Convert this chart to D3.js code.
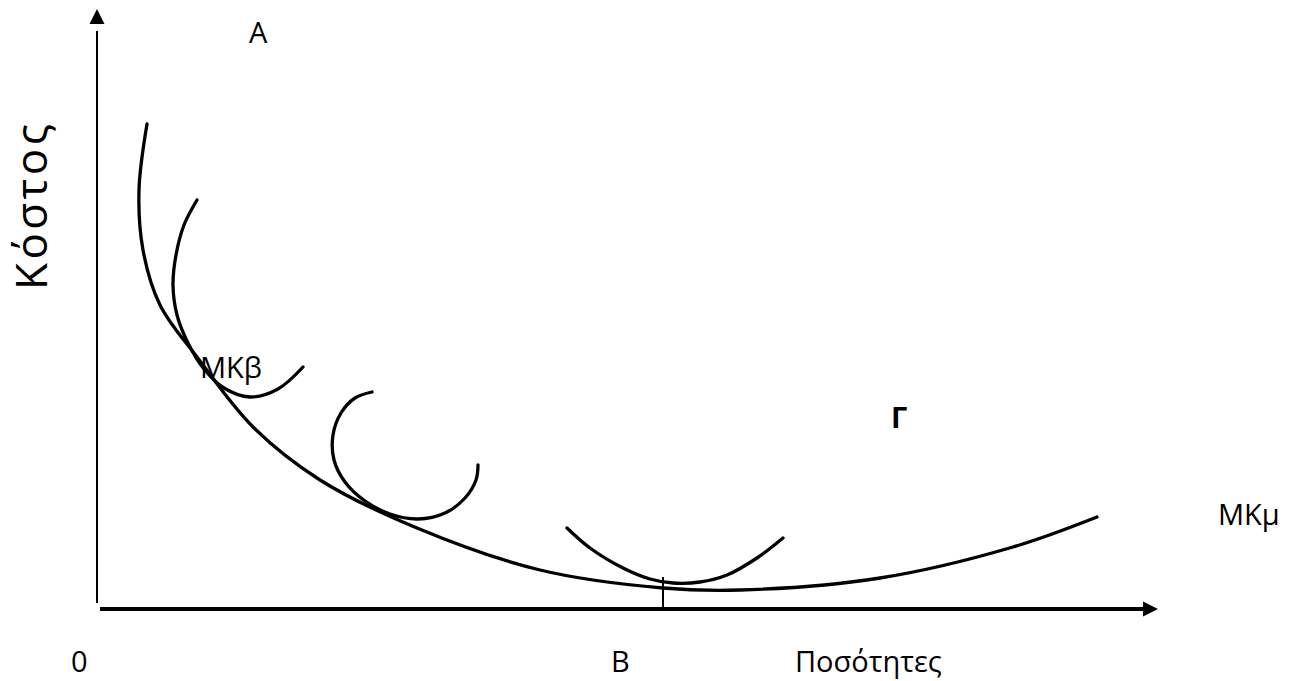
<!DOCTYPE html>
<html>
<head>
<meta charset="utf-8">
<script src="https://cdn.jsdelivr.net/npm/d3@7"></script>
<style>
    body { margin: 0; background: #fff; }
    text { font-family: 'Open Sans', 'Noto Sans', sans-serif; fill: #000; }
</style>
</head>
<body>
<svg></svg>
<script>
// long-run average cost curve (MKμ), in chart units
let lracX = [5.0, 4.2, 4.6, 6.3, 10.0, 15.6, 22.3, 32.0, 44.3, 56.6, 64.3, 78.3, 91.6, 100.0]
let lracY = [48.5, 41.9, 35.9, 30.4, 25.2, 18.2, 12.9, 8.1, 3.9, 2.1, 1.9, 3.1, 6.2, 9.2]

// short-run curves (MKβ)
let sr1X = [10.0, 8.7, 7.9, 7.6, 8.0, 9.1, 10.7, 12.7, 15.3, 18.1, 20.6]
let sr1Y = [40.9, 38.4, 35.4, 32.4, 29.4, 26.6, 24.0, 22.1, 21.2, 22.0, 24.2]

let sr2X = [27.5, 25.8, 24.4, 23.6, 23.7, 24.8, 26.8, 29.3, 32.1, 34.8, 36.8, 37.9, 38.1]
let sr2Y = [21.7, 21.1, 19.6, 17.4, 14.9, 12.7, 10.8, 9.5, 9.0, 9.6, 11.1, 12.9, 14.4]

let sr3X = [47.0, 49.3, 52.6, 55.3, 57.6, 60.3, 63.0, 66.0, 68.6]
let sr3Y = [8.1, 6.1, 4.1, 3.0, 2.6, 2.7, 3.4, 5.1, 7.1]

// quantity B marker
let markB = [56.6, 3.2]

let width = 1293
let height = 681

let svg = d3.select('svg')
            .attr('width', width)
            .attr('height', height)

let xScale = d3.scaleLinear().domain([0, 106]).range([97, 1157])
let yScale = d3.scaleLinear().domain([0, 60]).range([609, 9])

let zip = (xs, ys) => xs.map((x, i) => [x, ys[i]])

let line = d3.line()
             .x((d) => xScale(d[0]))
             .y((d) => yScale(d[1]))
             .curve(d3.curveCatmullRom.alpha(0.5))

// axes
svg.append('line')
   .attr('x1', xScale(0)).attr('y1', yScale(0) - 6)
   .attr('x2', xScale(0)).attr('y2', yScale(59) + 12)
   .attr('stroke', '#000').attr('stroke-width', 2)
svg.append('path')
   .attr('d', 'M' + (xScale(0) - 7.5) + ',' + (yScale(60) + 15) + ' L' + xScale(0) + ',' + yScale(60) + ' L' + (xScale(0) + 7.5) + ',' + (yScale(60) + 15) + 'Z')
   .attr('fill', '#000')

svg.append('line')
   .attr('x1', xScale(0) + 3).attr('y1', yScale(0))
   .attr('x2', xScale(106) - 12).attr('y2', yScale(0))
   .attr('stroke', '#000').attr('stroke-width', 4)
svg.append('path')
   .attr('d', 'M' + (xScale(106) + 1 - 15) + ',' + (yScale(0) - 7.5) + ' L' + (xScale(106) + 1) + ',' + yScale(0) + ' L' + (xScale(106) + 1 - 15) + ',' + (yScale(0) + 7.5) + 'Z')
   .attr('fill', '#000')

// curves
let curves = [zip(lracX, lracY), zip(sr1X, sr1Y), zip(sr2X, sr2Y), zip(sr3X, sr3Y)]
svg.selectAll('path.curve')
   .data(curves)
   .enter()
   .append('path')
   .attr('class', 'curve')
   .attr('d', line)
   .attr('fill', 'none')
   .attr('stroke', '#000')
   .attr('stroke-width', 3.3)
   .attr('stroke-linecap', 'round')

svg.append('line')
   .attr('x1', xScale(markB[0])).attr('y1', yScale(markB[1]))
   .attr('x2', xScale(markB[0])).attr('y2', yScale(0))
   .attr('stroke', '#000').attr('stroke-width', 2)

// labels
let addText = (t, x, y, opts = {}) => {
    let el = svg.append('text')
                .attr('x', x).attr('y', y)
                .attr('font-size', opts.size || 29)
                .attr('font-weight', opts.bold ? 'bold' : 'normal')
                .attr('text-anchor', opts.anchor || 'start')
                .text(t)
    if (opts.len) el.attr('textLength', opts.len).attr('lengthAdjust', 'spacing')
    if (opts.rotate) el.attr('transform', 'rotate(-90,' + x + ',' + y + ')')
    return el
}

addText('A', 249, 43)
addText('0', 71, 672)
addText('B', 611, 672)
addText('Ποσότητες', 795, 672)
addText('MKβ', 200, 378)
addText('MKμ', 1218, 525)
addText('Γ', 891, 428, { bold: true })
addText('Κόστος', 47, 207, { size: 44, anchor: 'middle', rotate: true, len: 166 })
</script>
</body>
</html>
